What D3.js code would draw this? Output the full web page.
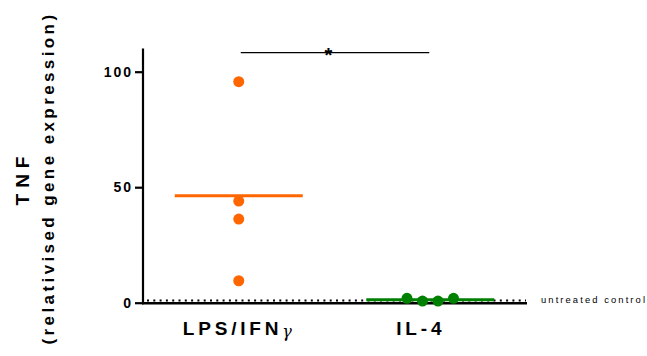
<!DOCTYPE html>
<html>
<head>
<meta charset="utf-8">
<script src="https://cdn.jsdelivr.net/npm/d3@7"></script>
<style>
  body { margin: 0; background: #fff; }
  svg { display: block; font-family: "Liberation Sans", Arial, sans-serif; }
</style>
</head>
<body>
<div id="chart"></div>
<script>
// values
var categories = ["LPS/IFN", "IL-4"];
var lpsValues = [95.7, 44.0, 36.2, 9.5];
var il4Values = [1.9, 0.7, 0.7, 1.9];
var yTicks = [0, 50, 100];
var controlLevel = 1;
var colors = ["#ff6600", "#008000"];

var groups = [lpsValues, il4Values];

var width = 647, height = 356;
var r = 5.5;

var svg = d3.select("#chart")
    .append("svg")
    .attr("width", width)
    .attr("height", height);

var x = d3.scalePoint()
    .domain(categories)
    .range([143, 526])
    .padding(0.5);

var y = d3.scaleLinear()
    .domain([0, 110])
    .range([302.7, 48.6]);

// dotted "untreated control" line
svg.append("line")
    .attr("x1", 147).attr("x2", 526)
    .attr("y1", y(controlLevel)).attr("y2", y(controlLevel))
    .attr("stroke", "#000")
    .attr("stroke-width", 2)
    .attr("stroke-dasharray", "2,4.3");

svg.append("text")
    .attr("x", 541)
    .attr("y", y(controlLevel) + 3)
    .attr("font-size", 9.4)
    .attr("letter-spacing", 2.1)
    .text("untreated control");

// y axis
var yAxis = svg.append("g")
    .attr("transform", "translate(143,0)")
    .call(d3.axisLeft(y).tickValues(yTicks).tickSize(8).tickPadding(4));
yAxis.select(".domain")
    .attr("d", "M0," + y(110) + "V" + (y(0) + 1.5))
    .attr("stroke-width", 2.2);
yAxis.selectAll(".tick line").attr("stroke-width", 2.2);
yAxis.selectAll(".tick text")
    .attr("font-size", 14)
    .attr("font-weight", "bold")
    .attr("letter-spacing", 2)
    .attr("dx", 2)
    .attr("font-family", "Liberation Sans, Arial, sans-serif");

// x axis
var xAxis = svg.append("g")
    .attr("transform", "translate(0," + (y(0) + 0.6) + ")")
    .call(d3.axisBottom(x).tickSize(0).tickPadding(18));
xAxis.select(".domain")
    .attr("d", "M142,0H527")
    .attr("stroke-width", 2.6);
xAxis.selectAll(".tick text")
    .attr("font-size", 19)
    .attr("font-weight", "bold")
    .attr("letter-spacing", 3.8)
    .attr("font-family", "Liberation Sans, Arial, sans-serif")
    .attr("dy", "0.71em")
    .attr("dx", function(d, i) { return i === 1 ? -10 : 0; })
    .each(function(d) {
        if (d === "LPS/IFN") {
            d3.select(this).append("tspan")
                .attr("font-family", "DejaVu Serif, serif")
                .attr("font-weight", "normal")
                .attr("font-style", "italic")
                .attr("font-size", 16)
                .attr("dy", 2)
                .text("\u03b3");
        }
    });

// y title
svg.append("text")
    .attr("transform", "translate(29,178) rotate(-90)")
    .attr("text-anchor", "middle")
    .attr("font-size", 19)
    .attr("font-weight", "bold")
    .attr("letter-spacing", 6)
    .text("TNF");

svg.append("text")
    .attr("transform", "translate(54,178) rotate(-90)")
    .attr("text-anchor", "middle")
    .attr("font-size", 17)
    .attr("font-weight", "bold")
    .attr("letter-spacing", 3.4)
    .text("(relativised gene expression)");

// mean lines
svg.selectAll(".mean")
    .data(groups)
    .enter()
    .append("line")
    .attr("class", "mean")
    .attr("x1", function(d, i) { return x(categories[i]) - 64; })
    .attr("x2", function(d, i) { return x(categories[i]) + 64; })
    .attr("y1", function(d) { return y(d3.mean(d)); })
    .attr("y2", function(d) { return y(d3.mean(d)); })
    .attr("stroke", function(d, i) { return colors[i]; })
    .attr("stroke-width", 3);

// points, spread sideways when they would overlap
function spread(vals) {
    var px = vals.map(function(v) { return y(v); });
    var crowded = d3.max(px) - d3.min(px) < 2 * r;
    return vals.map(function(v, j) {
        return crowded ? (j - (vals.length - 1) / 2) * 15.5 : 0;
    });
}

groups.forEach(function(vals, i) {
    var off = spread(vals);
    svg.selectAll(".pt" + i)
        .data(vals)
        .enter()
        .append("circle")
        .attr("class", "pt" + i)
        .attr("cx", function(d, j) { return x(categories[i]) + off[j]; })
        .attr("cy", function(d) { return y(d); })
        .attr("r", r)
        .attr("fill", colors[i]);
});

// significance bar
svg.append("line")
    .attr("x1", x(categories[0]) + 2).attr("x2", x(categories[1]) - 1)
    .attr("y1", 52.7).attr("y2", 52.7)
    .attr("stroke", "#000")
    .attr("stroke-width", 1.2);

svg.append("text")
    .attr("x", (x(categories[0]) + x(categories[1])) / 2 - 6)
    .attr("y", 62)
    .attr("text-anchor", "middle")
    .attr("font-size", 20)
    .attr("font-weight", "bold")
    .text("*");
</script>
</body>
</html>
